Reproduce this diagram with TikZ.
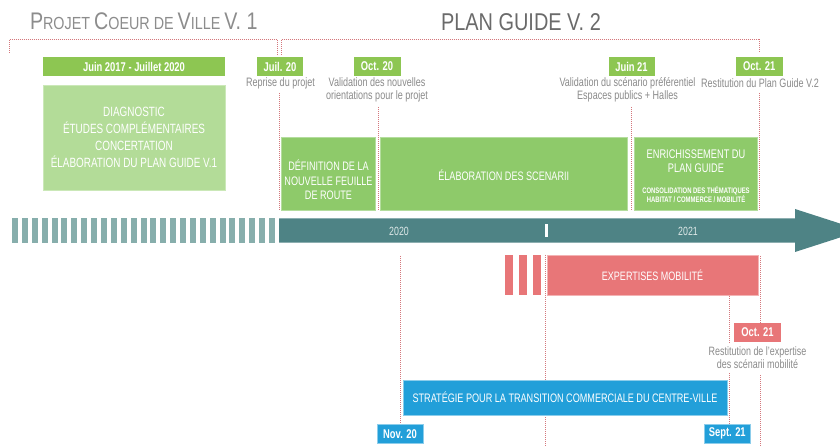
\documentclass[tikz,border=0pt]{standalone}
\usepackage{fontspec}
\setmainfont{Liberation Sans}[FakeStretch=0.74]
\newfontfamily\titlefont{Liberation Sans}[FakeStretch=0.82]

\definecolor{hdrgreen}{HTML}{8DC652}
\definecolor{lightgreen}{HTML}{B3DC98}
\definecolor{lightgreenedge}{HTML}{CBE8B8}
\definecolor{midgreen}{HTML}{8ECA6A}
\definecolor{midgreenedge}{HTML}{B4DD9E}
\definecolor{axiscol}{HTML}{4E8385}
\definecolor{stripecol}{HTML}{87AEAC}
\definecolor{mobred}{HTML}{E87678}
\definecolor{mobrededge}{HTML}{F3B3B4}
\definecolor{comblue}{HTML}{229FD9}
\definecolor{comblueedge}{HTML}{8CCDEB}
\definecolor{guidered}{HTML}{D4777C}
\definecolor{capgrey}{HTML}{8A8A8A}
\definecolor{titlegreyA}{HTML}{8C8C8C}
\definecolor{titlegreyB}{HTML}{6A6A6A}
\definecolor{yearcol}{HTML}{DDE8E8}

\newcommand{\bigsc}{\fontsize{24}{24}\selectfont}
\newcommand{\smallsc}{\fontsize{17.5}{17.5}\selectfont}

\begin{document}
\begin{tikzpicture}[x=1pt,y=-1pt,
  every node/.style={inner sep=0pt, outer sep=0pt},
  box/.style={anchor=north west, align=center, text=white},
  boxtext/.style={align=center, text=white, font=\fontsize{12.3}{14.5}\selectfont},
  datebox/.style={box, font=\bfseries\fontsize{12.7}{13}\selectfont},
  caption/.style={align=center, text=capgrey, font=\fontsize{12.2}{13.4}\selectfont},
  guide/.style={draw=guidered, line width=0.7pt, dash pattern=on 1pt off 1pt},
]
\useasboundingbox (0,0) rectangle (840,446);

% ---- titles ----
\node[anchor=base west, text=titlegreyA, font=\titlefont] (t1) at (30,30)
  {\bigsc P\smallsc ROJET \bigsc C\smallsc OEUR DE \bigsc V\smallsc ILLE \bigsc V. 1};
\node[anchor=base west, text=titlegreyB, font=\titlefont\fontsize{24.3}{24}\selectfont] (t2) at (441,30.5)
  {PLAN GUIDE V. 2};

% ---- phase brackets ----
\draw[guide] (9,53) -- (9,39.5) -- (277,39.5) -- (277,55);
\draw[guide] (281,55) -- (281,39.5) -- (759.5,39.5) -- (759.5,53);

% ---- dated milestones ----
\node[datebox, fill=hdrgreen, minimum width=182pt, minimum height=19pt] (d17) at (43,57) {Juin 2017 - Juillet 2020};
\node[datebox, fill=hdrgreen, minimum width=46pt, minimum height=19pt] (dj20) at (257,57) {Juil. 20};
\node[datebox, fill=hdrgreen, minimum width=47pt, minimum height=19pt] (do20) at (353.5,57) {Oct. 20};
\node[datebox, fill=hdrgreen, minimum width=46pt, minimum height=19pt] (dj21) at (608.5,57) {Juin 21};
\node[datebox, fill=hdrgreen, minimum width=46.5pt, minimum height=19pt] (do21) at (736,57) {Oct. 21};

\node[caption] (cj20) at (280.5,83.5) {Reprise du projet};
\node[caption] (co20) at (377,90) {Validation des nouvelles\\orientations pour le projet};
\node[caption] (cj21) at (627.5,90) {Validation du scénario préférentiel\\Espaces publics + Halles};
\node[caption] (co21) at (760,83.5) {Restitution du Plan Guide V.2};

% ---- version 1 block ----
\node[box, fill=lightgreen, draw=lightgreenedge, line width=0.8pt,
      minimum width=182pt, minimum height=105pt,
      font=\fontsize{13.4}{17}\selectfont] (diag) at (43,85)
  {DIAGNOSTIC\\ÉTUDES COMPLÉMENTAIRES\\CONCERTATION\\ÉLABORATION DU PLAN GUIDE V.1};

% ---- version 2 phases ----
\node[box, fill=midgreen, draw=midgreenedge, line width=0.8pt,
      minimum width=94pt, minimum height=73pt] (def) at (281.5,137.5) {};
\node[boxtext] (deft) at (328.5,180) {DÉFINITION DE LA\\NOUVELLE FEUILLE\\DE ROUTE};
\node[box, fill=midgreen, draw=midgreenedge, line width=0.8pt,
      minimum width=247.5pt, minimum height=73pt] (elab) at (380,137.5) {};
\node[boxtext] (elabt) at (503.75,175) {ÉLABORATION DES SCENARII};
\node[box, fill=midgreen, draw=midgreenedge, line width=0.8pt,
      minimum width=123pt, minimum height=73pt] (enr) at (634.5,137.5) {};
\node[boxtext, font=\fontsize{12.5}{13.4}\selectfont] (enrt) at (696,161) {ENRICHISSEMENT DU\\PLAN GUIDE};
\node[boxtext, font=\bfseries\fontsize{8}{9}\selectfont] (enrs) at (696,195) {CONSOLIDATION DES THÉMATIQUES\\HABITAT / COMMERCE / MOBILITÉ};

% ---- guides down to the phases ----
\draw[guide] (279.5,93) -- (279.5,211);
\draw[guide] (378.3,107) -- (378.3,211);
\draw[guide] (631.7,107) -- (631.7,211);
\draw[guide] (759.3,93) -- (759.3,211);

% ---- time axis ----
\foreach \i in {0,...,26}
  \fill[stripecol] ({12+\i*9.885},218.3) rectangle ++(6,24.4);
\fill[axiscol] (279,218.3) -- (795,218.3) -- (795,209) -- (840,223.5)
  -- (840,237.5) -- (795,252) -- (795,242.7) -- (279,242.7) -- cycle;
\node[text=yearcol, font=\fontsize{11.9}{12}\selectfont] (y20) at (399,231.5) {2020};
\node[text=yearcol, font=\fontsize{11.9}{12}\selectfont] (y21) at (688,231.5) {2021};
\fill[white] (544.5,224.5) rectangle (547.7,236.7);

% ---- mobility study ----
\fill[mobred] (505,255) rectangle (513,295);
\fill[mobred] (518.5,255) rectangle (526.5,295);
\fill[mobred] (533,255) rectangle (541,295);
\node[box, fill=mobred, draw=mobrededge, line width=0.6pt,
      minimum width=211pt, minimum height=40pt,
      font=\fontsize{12.2}{13}\selectfont] (exp) at (547,255) {EXPERTISES MOBILITÉ};
\node[datebox, fill=mobred, minimum width=47pt, minimum height=18.5pt] (ro21) at (734,323) {Oct. 21};
\node[caption, font=\fontsize{12.1}{12.7}\selectfont] (rcap) at (757.5,358) {Restitution de l'expertise\\des scénarii mobilité};

% ---- guides below the axis ----
\draw[guide] (545.5,255) -- (545.5,446);
\draw[guide] (400,256) -- (400,424);
\draw[guide] (729,296) -- (729,343);
\draw[guide] (729,373) -- (729,424);
\draw[guide] (760,256) -- (760,323);
\draw[guide] (760,375) -- (760,446);

% ---- commercial strategy ----
\node[box, fill=comblue, draw=comblueedge, line width=0.6pt,
      minimum width=324pt, minimum height=35pt,
      font=\fontsize{12.3}{13}\selectfont] (strat) at (403,380)
  {STRATÉGIE POUR LA TRANSITION COMMERCIALE DU CENTRE-VILLE};
\node[datebox, fill=comblue, draw=comblueedge, line width=0.6pt, minimum width=46pt, minimum height=18.5pt] (nov) at (377,424.5) {Nov. 20};
\node[datebox, fill=comblue, draw=comblueedge, line width=0.6pt, minimum width=46.5pt, minimum height=18.5pt] (sep) at (704,424.5) {Sept. 21};
\end{tikzpicture}
\end{document}
